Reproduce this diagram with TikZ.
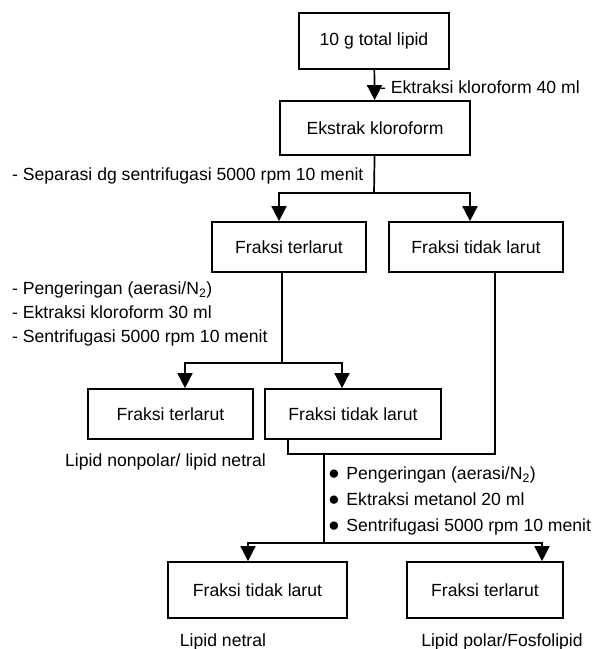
\documentclass[tikz,border=0pt]{standalone}
\usepackage{fontspec}
\setmainfont{Liberation Sans}
\usepackage{tikz}
\usetikzlibrary{arrows.meta}
\tikzset{>={Triangle[width=15bp,length=15bp]}}
\tikzset{
  box/.style={draw,line width=1.7bp,minimum height=50bp,inner sep=0pt},
  flow/.style={line width=1.7bp},
  note/.style={anchor=west,inner sep=0pt},
}
\newcommand{\steps}[3]{#1\\#2\\#3}
\newcommand{\bul}{\scalebox{1.25}{$\bullet$}\hspace{7bp}}

\begin{document}
\begin{tikzpicture}[x=1bp,y=-1bp,font=\fontsize{17.6bp}{21bp}\selectfont]
\useasboundingbox (0,0) rectangle (595,649);
% boxes
\node[box,minimum width=150bp,minimum height=56bp] (total) at (374,41) {10 g total lipid};
\node[box,minimum width=190bp,minimum height=54bp] (ekstrak) at (375,128) {Ekstrak kloroform};
\node[box,minimum width=154bp] (terlarutA) at (289,247) {Fraksi terlarut};
\node[box,minimum width=174bp] (tidakA) at (476,247) {Fraksi tidak larut};
\node[box,minimum width=165bp] (terlarutB) at (170.5,414) {Fraksi terlarut};
\node[box,minimum width=176bp] (tidakB) at (353,414) {Fraksi tidak larut};
\node[box,minimum width=179bp,minimum height=56bp] (tidakC) at (257.5,590) {Fraksi tidak larut};
\node[box,minimum width=156bp,minimum height=56bp] (terlarutC) at (485,590) {Fraksi terlarut};
% notes
\node[note] (ektr40) at (380,87) {- Ektraksi kloroform 40 ml};
\node[note] (separasi) at (12,176) {- Separasi dg sentrifugasi 5000 rpm 10 menit};
\node[note,align=left,font=\fontsize{17.6bp}{24bp}\selectfont] (stepsA) at (12,314)
  {\steps{- Pengeringan (aerasi/N\textsubscript{2})}{- Ektraksi kloroform 30 ml}{- Sentrifugasi 5000 rpm 10 menit}};
\node[note,align=left,font=\fontsize{17.6bp}{26bp}\selectfont] (stepsB) at (328.5,501)
  {\steps{\bul Pengeringan (aerasi/N\textsubscript{2})}{\bul Ektraksi metanol 20 ml}{\bul Sentrifugasi 5000 rpm 10 menit}};
\node (nonpolar) at (165.5,462) {Lipid nonpolar/ lipid netral};
\node (netral) at (223,642) {Lipid netral};
\node (polar) at (502,642) {Lipid polar/Fosfolipid};
% connectors
\coordinate (j1) at (374,193);
\coordinate (j2) at (282,363);
\coordinate (j3) at (324,454);
\coordinate (j4) at (324,543);
\draw[flow,->] (total) -- (ekstrak);
\draw[flow] (ekstrak) -- (j1);
\draw[flow,->] (j1) -| ([xshift=-10bp]terlarutA.north);
\draw[flow,->] (j1) -| ([xshift=-6bp]tidakA.north);
\draw[flow] ([xshift=-7bp]terlarutA.south) -- (j2);
\draw[flow,->] (j2) -| ([xshift=14.5bp]terlarutB.north);
\draw[flow,->] (j2) -| ([xshift=-11bp]tidakB.north);
\draw[flow] ([xshift=-65bp]tidakB.south) |- (j3) -| ([xshift=19bp]tidakA.south);
\draw[flow] (j3) -- (j4);
\draw[flow,->] (j4) -| ([xshift=-9.5bp]tidakC.north);
\draw[flow,->] (j4) -| ([xshift=57bp]terlarutC.north);
\end{tikzpicture}
\end{document}
